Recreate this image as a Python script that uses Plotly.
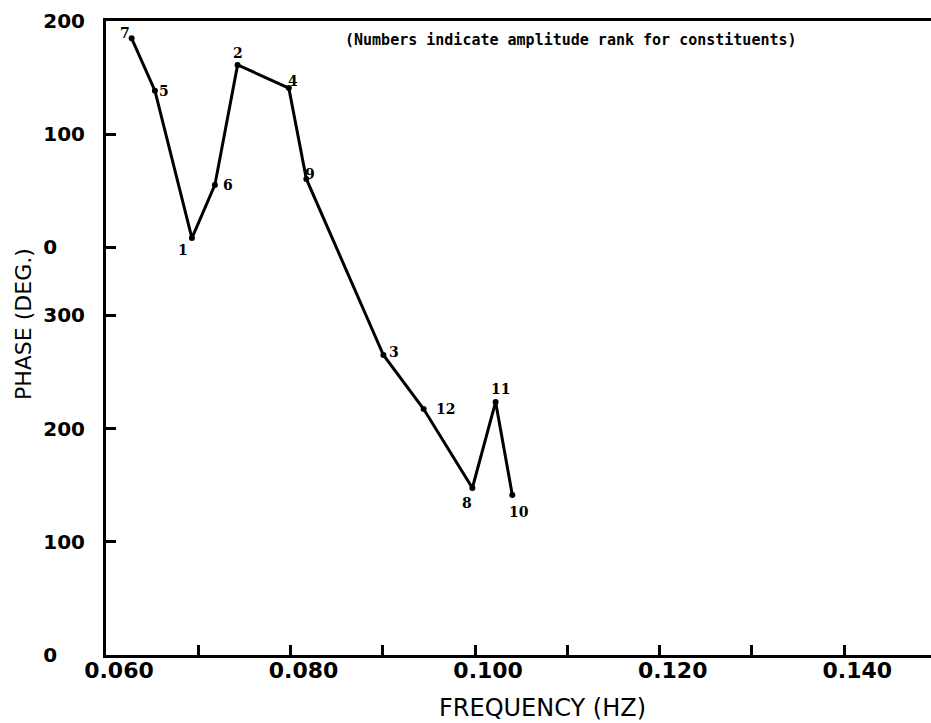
import plotly.graph_objects as go

# ---- data ----
frequency_hz = [0.06278, 0.06530, 0.06931, 0.07180, 0.07426, 0.07981,
                0.08171, 0.09006, 0.09442, 0.09970, 0.10222, 0.10403]
phase_unwrapped_deg = [544.7, 498.5, 368.3, 415.2, 521.2, 500.8,
                       420.5, 265.0, 217.3, 147.5, 223.5, 141.3]
amplitude_rank = ["7", "5", "1", "6", "2", "4", "9", "3", "12", "8", "11", "10"]

x_tick_values = [0.06, 0.07, 0.08, 0.09, 0.10, 0.11, 0.12, 0.13, 0.14]
x_tick_labels = ["0.060", "", "0.080", "", "0.100", "", "0.120", "", "0.140"]
y_tick_values = [0, 100, 200, 300, 360, 460, 560]
y_tick_labels = ["0", "100", "200", "300", "0", "100", "200"]

note_text = "(Numbers indicate amplitude rank for constituents)"
x_title = "FREQUENCY (HZ)"
y_title = "PHASE (DEG.)"

# label offsets in pixels (style only)
label_shift = {"7": (-7, 5), "5": (9, 0), "1": (-9, -12), "6": (13, 0),
               "2": (0, 12), "4": (4, 7), "9": (4, 5), "3": (11, 3),
               "12": (22, 0), "8": (-5, -15), "11": (5, 13), "10": (7, -17)}

FS = "\u2007"
y_tick_text = [t + FS * (3 - len(t)) for t in y_tick_labels]

fig = go.Figure()
fig.add_trace(go.Scatter(
    x=frequency_hz, y=phase_unwrapped_deg, mode="lines+markers",
    line=dict(color="black", width=3),
    marker=dict(color="black", size=6),
    showlegend=False, hoverinfo="skip"))

for fx, py, lab in zip(frequency_hz, phase_unwrapped_deg, amplitude_rank):
    dx, dy = label_shift[lab]
    fig.add_annotation(x=fx, y=py, text=lab, showarrow=False,
                       xshift=dx, yshift=dy,
                       font=dict(family="DejaVu Serif", size=14, color="black", weight="bold"))

fig.add_annotation(xref="paper", yref="paper", x=(343 - 106) / 825, y=(655 - 40) / 634,
                   xanchor="left", yanchor="middle", text=note_text, showarrow=False,
                   font=dict(family="DejaVu Sans Mono", size=15, color="black", weight="bold"))
fig.add_annotation(xref="paper", yref="paper", x=(542 - 106) / 825, y=-(708 - 655) / 634,
                   xanchor="center", yanchor="middle", text=x_title, showarrow=False,
                   font=dict(family="DejaVu Sans", size=24, color="black"))
fig.add_annotation(xref="paper", yref="paper", x=-(106 - 23) / 825, y=(655 - 324) / 634,
                   xanchor="center", yanchor="middle", text=y_title, showarrow=False,
                   textangle=-90,
                   font=dict(family="DejaVu Sans", size=22, color="black"))

fig.update_xaxes(range=[0.060, 0.1494], tickvals=x_tick_values, ticktext=x_tick_labels,
                 ticks="inside", ticklen=10, tickwidth=3, tickcolor="black",
                 showline=True, linewidth=3, linecolor="black", mirror=True,
                 showgrid=False, zeroline=False, ticklabelshift=13, ticklabelstandoff=-6,
                 tickfont=dict(family="DejaVu Sans", size=22, color="black", weight="bold"))
fig.update_yaxes(range=[0, 560], tickvals=y_tick_values, ticktext=y_tick_text,
                 ticks="inside", ticklen=10, tickwidth=3, tickcolor="black",
                 showline=True, linewidth=3, linecolor="black",
                 showgrid=False, zeroline=False, ticklabelstandoff=14,
                 tickfont=dict(family="DejaVu Sans", size=20, color="black", weight="bold"))

fig.update_layout(width=931, height=723, plot_bgcolor="white", paper_bgcolor="white",
                  margin=dict(l=106, r=0, t=21, b=68))

fig.write_html("out.html", config={"displayModeBar": False},
               post_script="document.body.style.margin='0';document.body.style.overflow='hidden';")
